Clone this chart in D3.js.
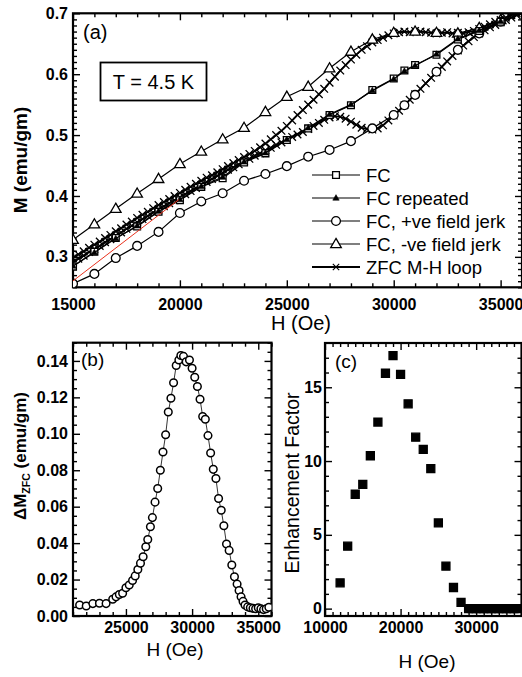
<!DOCTYPE html>
<html>
<head>
<meta charset="utf-8">
<script src="https://cdn.jsdelivr.net/npm/d3@7"></script>
<style>
  body { margin: 0; background: #fff; }
  svg { display: block; font-family: "Liberation Sans", Arial, Helvetica, sans-serif; }
</style>
</head>
<body>
<svg id="fig" width="522" height="677"></svg>
<script>
// ---------- Panel (a): M vs H at T = 4.5 K ----------
const fcField   = [15000,16000,17000,18000,19000,20000,21000,22000,23000,24000,25000,26000,27000,28000,29000,30000,30500,31000,32000,33000,34000,35000];
const fcM       = [0.284,0.3085,0.331,0.350,0.374,0.393,0.415,0.429,0.455,0.470,0.492,0.511,0.533,0.549,0.574,0.593,0.606,0.615,0.632,0.657,0.671,0.686];
const fcRepM    = [0.285,0.307,0.330,0.351,0.375,0.394,0.416,0.431,0.456,0.471,0.493,0.512,0.534,0.550,0.573,0.592,0.605,0.614,0.633,0.658,0.672,0.687];
const posJerkField = [15000,16000,17000,18000,19000,20000,21000,22000,23000,24000,25000,26000,27000,28000,29000,30000,30500,31000,32000,33000,34000,35000];
const posJerkM     = [0.256,0.272,0.298,0.318,0.341,0.372,0.391,0.4045,0.425,0.436,0.449,0.4645,0.4756,0.490,0.511,0.533,0.549,0.566,0.604,0.640,0.667,0.686];
const negJerkField = [15000,16000,17000,18000,19000,20000,21000,22000,23000,24000,25000,26000,27000,28000,29000,30000,31000,32000,33000,34000,35000];
const negJerkM     = [0.328,0.3535,0.379,0.404,0.428,0.4525,0.473,0.493,0.512,0.538,0.563,0.5795,0.6097,0.637,0.657,0.668,0.670,0.668,0.667,0.676,0.689];

// ZFC M-H loop, both branches on a common field grid
const zfcField = [15000,15250,15500,15750,16000,16250,16500,16750,17000,17250,17500,17750,18000,18250,18500,18750,
  19000,19250,19500,19750,20000,20250,20500,20750,21000,21250,21500,21750,22000,22250,22500,22750,
  23000,23250,23500,23750,24000,24250,24500,24750,25000,25250,25500,25750,26000,26250,26500,26750,
  27000,27250,27500,27750,28000,28250,28500,28750,29000,29250,29500,29750,30000,30250,30500,30750,
  31000,31250,31500,31750,32000,32250,32500,32750,33000,33250,33500,33750,34000,34250,34500,34750,
  35000,35250,35500,35750,36000];
const zfcUpM = [0.291,0.297,0.302,0.308,0.313,0.318,0.324,0.329,0.335,0.340,0.346,0.351,0.357,0.362,0.367,0.373,
  0.378,0.383,0.388,0.393,0.398,0.403,0.408,0.413,0.418,0.423,0.428,0.433,0.438,0.443,0.447,0.452,
  0.457,0.461,0.466,0.470,0.475,0.479,0.484,0.488,0.492,0.497,0.501,0.505,0.510,0.515,0.520,0.525,
  0.529,0.531,0.530,0.527,0.522,0.517,0.512,0.510,0.509,0.511,0.516,0.524,0.532,0.540,0.549,0.558,
  0.567,0.576,0.585,0.594,0.603,0.612,0.621,0.630,0.639,0.647,0.654,0.661,0.667,0.672,0.677,0.681,
  0.685,0.689,0.693,0.697,0.701];
const zfcDownM = [0.298,0.304,0.309,0.315,0.320,0.325,0.331,0.336,0.342,0.347,0.353,0.358,0.364,0.369,0.374,0.380,
  0.385,0.390,0.395,0.400,0.405,0.410,0.415,0.420,0.425,0.430,0.434,0.439,0.444,0.449,0.454,0.459,
  0.464,0.469,0.474,0.480,0.486,0.493,0.500,0.507,0.515,0.524,0.533,0.541,0.550,0.558,0.567,0.576,
  0.586,0.596,0.606,0.615,0.624,0.632,0.640,0.646,0.652,0.656,0.660,0.664,0.667,0.669,0.670,0.669,
  0.671,0.670,0.669,0.668,0.667,0.668,0.669,0.667,0.668,0.667,0.669,0.671,0.674,0.678,0.682,0.686,
  0.689,0.693,0.697,0.700,0.704];

// linear fit drawn in red
const fitField = [15000, 19950];
const fitM     = [0.2605, 0.394];

const aXTicks = [15000, 20000, 25000, 30000, 35000];
const aYTicks = [0.3, 0.4, 0.5, 0.6, 0.7];

// ---------- Panel (b): Delta M_ZFC ----------
const dmField = [21500,22000,22500,23000,23500,24000,24250,24500,24750,25000,25250,25500,25700,25900,26100,26300,26500,26650,26850,27000,
  27200,27400,27600,27800,28000,28200,28400,28600,28800,29000,29150,29350,29550,29800,30000,30200,30400,30600,30800,31000,
  31200,31400,31600,31800,32000,32200,32400,32600,32800,33000,33200,33400,33550,33700,33850,34000,34200,34400,34600,34800,
  35000,35200,35400,35600,35800];
const dmValue = [0.006,0.0055,0.0068,0.007,0.0068,0.0092,0.0105,0.0118,0.0125,0.0155,0.017,0.0195,0.022,0.0255,0.029,0.0325,0.038,0.042,0.049,0.054,
  0.0625,0.070,0.080,0.090,0.0995,0.112,0.1195,0.128,0.1375,0.1405,0.143,0.1425,0.1395,0.1405,0.136,0.131,0.126,0.119,0.1095,0.108,
  0.099,0.0895,0.0805,0.0755,0.0645,0.058,0.0495,0.0395,0.036,0.028,0.0215,0.0175,0.014,0.0105,0.008,0.006,0.005,0.0045,0.0042,0.004,
  0.0045,0.004,0.0035,0.004,0.0048];
const bXTicks = [25000, 30000, 35000];
const bYTicks = [0, 0.02, 0.04, 0.06, 0.08, 0.10, 0.12, 0.14];

// ---------- Panel (c): enhancement factor ----------
const efField = [12000,13000,14000,15000,16000,17000,18000,19000,20000,21000,22000,23000,24000,25000,26000,27000,28000,
  29000,29500,30000,30500,31000,31500,32000,32500,33000,33500,34000,34500,35000,35500];
const efValue = [1.75,4.23,7.75,8.42,10.36,12.64,15.95,17.15,15.87,13.88,11.62,10.79,9.49,5.81,2.88,1.43,0.42,
  0,0,0,0,0,0,0,0,0,0,0,0,0,0];
const cXTicks = [10000, 20000, 30000];
const cYTicks = [0, 5, 10, 15];

// ---------- drawing ----------
const svg = d3.select("#fig");
let clipId = 0;

function drawFrame(x, y, cfg) {
  const [xl, xr] = x.range();
  const [yb, yt] = y.range();
  const g = svg.append("g");
  const styleTicks = a => {
    a.select(".domain").remove();
    a.selectAll(".tick line").attr("stroke", "#000").attr("stroke-width", 1.4);
    a.selectAll(".tick text").attr("font-size", cfg.tickFont).attr("font-weight", "bold").attr("fill", "#000")
      .attr("font-family", "'Liberation Sans', Arial, sans-serif");
  };
  const ax = (gen, tr, vals, len, fmt, pad) => {
    const a = g.append("g").attr("transform", tr)
      .call(gen.tickValues(vals).tickSizeInner(-len).tickSizeOuter(0).tickPadding(pad).tickFormat(fmt));
    styleTicks(a);
    return a;
  };
  const none = () => "";
  // bottom
  ax(d3.axisBottom(x), `translate(0,${yb})`, cfg.xMinor, cfg.minorLen, none, 0);
  ax(d3.axisBottom(x), `translate(0,${yb})`, cfg.xTicks, cfg.majorLen, cfg.xFmt, cfg.xPad);
  // top
  ax(d3.axisTop(x), `translate(0,${yt})`, cfg.xMinor, cfg.minorLen, none, 0);
  ax(d3.axisTop(x), `translate(0,${yt})`, cfg.xTicks, cfg.majorLen, none, 0);
  // left
  ax(d3.axisLeft(y), `translate(${xl},0)`, cfg.yMinor, cfg.minorLen, none, 0);
  ax(d3.axisLeft(y), `translate(${xl},0)`, cfg.yTicks, cfg.majorLen, cfg.yFmt, cfg.yPad);
  // right
  ax(d3.axisRight(y), `translate(${xr},0)`, cfg.yMinor, cfg.minorLen, none, 0);
  ax(d3.axisRight(y), `translate(${xr},0)`, cfg.yTicks, cfg.majorLen, none, 0);
  // frame
  g.append("rect").attr("x", xl).attr("y", yt).attr("width", xr - xl).attr("height", yb - yt)
    .attr("fill", "none").attr("stroke", "#000").attr("stroke-width", 2.2);
}

function plotArea(x, y) {
  const id = "clip" + (clipId++);
  const [xl, xr] = x.range();
  const [yb, yt] = y.range();
  svg.append("clipPath").attr("id", id).append("rect")
    .attr("x", xl).attr("y", yt).attr("width", xr - xl).attr("height", yb - yt);
  return svg.append("g").attr("clip-path", `url(#${id})`);
}

// marker shapes centred on the origin
const shape = {
  square: s => `M${-s},${-s}H${s}V${s}H${-s}Z`,
  circle: r => `M${-r},0A${r},${r} 0 1,0 ${r},0A${r},${r} 0 1,0 ${-r},0Z`,
  triangle: s => `M0,${-s * 1.05}L${s},${s * 0.68}L${-s},${s * 0.68}Z`,
  cross: s => `M${-s},${-s}L${s},${s}M${-s},${s}L${s},${-s}`
};

function series(g, x, y, xs, ys, opt) {
  const pts = xs.map((v, i) => [v, ys[i]]);
  if (opt.line !== false) {
    g.append("path").attr("d", d3.line().x(d => x(d[0])).y(d => y(d[1]))(pts))
      .attr("fill", "none").attr("stroke", opt.lineColor || "#000").attr("stroke-width", opt.lw || 1.2);
  }
  if (opt.marker) {
    g.selectAll(null).data(pts).enter().append("path")
      .attr("transform", d => `translate(${x(d[0])},${y(d[1])})`)
      .attr("d", opt.marker)
      .attr("fill", opt.fill || "none")
      .attr("stroke", opt.stroke || "#000")
      .attr("stroke-width", opt.sw || 1.3);
  }
}

// ---- panel (a)
const xa = d3.scaleLinear().domain([15000, 36000]).range([73, 522]);
const ya = d3.scaleLinear().domain([0.25, 0.7]).range([287.3, 13.3]);
drawFrame(xa, ya, {
  xTicks: aXTicks, xMinor: d3.range(15000, 36001, 1000).filter(v => !aXTicks.includes(v)),
  yTicks: aYTicks, yMinor: d3.range(25, 71).map(v => v / 100).filter(v => !aYTicks.some(t => Math.abs(t - v) < 1e-9)),
  majorLen: 7, minorLen: 4, xPad: 11, yPad: 5, tickFont: 16,
  xFmt: d3.format("d"), yFmt: d3.format(".1f")
});
const ga = plotArea(xa, ya);
series(ga, xa, ya, zfcField, zfcUpM, { lw: 1.8, marker: shape.cross(3.8), sw: 1.3 });
series(ga, xa, ya, zfcField, zfcDownM, { lw: 1.8, marker: shape.cross(3.8), sw: 1.3 });
series(ga, xa, ya, negJerkField, negJerkM, { marker: shape.triangle(5.3), fill: "#fff", sw: 1.3 });
series(ga, xa, ya, posJerkField, posJerkM, { marker: shape.circle(4.4), fill: "#fff", sw: 1.3 });
series(ga, xa, ya, fcField, fcM, { marker: shape.square(3.4), fill: "#fff", sw: 1.3 });
series(ga, xa, ya, fcField, fcRepM, { marker: shape.triangle(3.2), fill: "#000", sw: 0.6 });
series(ga, xa, ya, fitField, fitM, { lineColor: "#e8321e", lw: 1 });

// label, temperature box, axis titles
svg.append("text").attr("x", 83).attr("y", 39).attr("font-size", 20).text("(a)");
svg.append("rect").attr("x", 100.5).attr("y", 62.5).attr("width", 106).attr("height", 38)
  .attr("fill", "#fff").attr("stroke", "#000").attr("stroke-width", 1.8);
svg.append("text").attr("x", 153.5).attr("y", 89).attr("text-anchor", "middle").attr("font-size", 20).text("T = 4.5 K");
svg.append("text").attr("transform", "translate(27,160) rotate(-90)").attr("text-anchor", "middle")
  .attr("font-size", 19).attr("font-weight", "bold").text("M (emu/gm)");
svg.append("text").attr("x", 301).attr("y", 330).attr("text-anchor", "middle").attr("font-size", 20).text("H (Oe)");

// legend
const legendItems = [
  { label: "FC", marker: shape.square(3.4), fill: "#fff", sw: 1.3 },
  { label: "FC repeated", marker: shape.triangle(3.2), fill: "#000", sw: 0.6 },
  { label: "FC, +ve field jerk", marker: shape.circle(4.4), fill: "#fff", sw: 1.3 },
  { label: "FC, -ve field jerk", marker: shape.triangle(5.3), fill: "#fff", sw: 1.3 },
  { label: "ZFC M-H loop", marker: shape.cross(3.2), fill: "none", sw: 1.1 }
];
const leg = svg.append("g");
legendItems.forEach((it, i) => {
  const cy = 175 + i * 23;
  leg.append("line").attr("x1", 312).attr("x2", 360).attr("y1", cy).attr("y2", cy)
    .attr("stroke", "#000").attr("stroke-width", i === 4 ? 1.8 : 1.2);
  leg.append("path").attr("transform", `translate(336,${cy})`).attr("d", it.marker)
    .attr("fill", it.fill).attr("stroke", "#000").attr("stroke-width", it.sw);
  leg.append("text").attr("x", 366).attr("y", cy + 6.6).attr("font-size", 18.5).text(it.label);
});

// ---- panel (b)
const xb = d3.scaleLinear().domain([21000, 36000]).range([73, 271.5]);
const yb = d3.scaleLinear().domain([0, 0.15]).range([616, 342.7]);
drawFrame(xb, yb, {
  xTicks: bXTicks, xMinor: d3.range(21000, 36001, 1000).filter(v => !bXTicks.includes(v)),
  yTicks: bYTicks, yMinor: d3.range(0, 151, 5).map(v => v / 1000).filter(v => !bYTicks.some(t => Math.abs(t - v) < 1e-9)),
  majorLen: 7, minorLen: 4, xPad: 6, yPad: 5, tickFont: 16,
  xFmt: d3.format("d"), yFmt: d3.format(".2f")
});
const gb = plotArea(xb, yb);
series(gb, xb, yb, dmField, dmValue, { lw: 0.8, marker: shape.circle(3.8), fill: "#fff", sw: 1.5 });
svg.append("text").attr("x", 81).attr("y", 366).attr("font-size", 19).text("(b)");
const bLabel = svg.append("text").attr("transform", "translate(26,456) rotate(-90)").attr("text-anchor", "middle")
  .attr("font-size", 17).attr("font-weight", "bold");
bLabel.append("tspan").text("\u0394M");
bLabel.append("tspan").attr("font-size", 10.5).attr("dy", 4).text("ZFC");
bLabel.append("tspan").attr("dy", -4).text(" (emu/gm)");
svg.append("text").attr("x", 175).attr("y", 656).attr("text-anchor", "middle").attr("font-size", 19).text("H (Oe)");

// ---- panel (c)
const xc = d3.scaleLinear().domain([10000, 36000]).range([325, 521.5]);
const yc = d3.scaleLinear().domain([-0.5, 18]).range([616, 343]);
drawFrame(xc, yc, {
  xTicks: cXTicks, xMinor: d3.range(10000, 36001, 1000).filter(v => !cXTicks.includes(v)),
  yTicks: cYTicks, yMinor: d3.range(0, 18, 1).filter(v => !cYTicks.includes(v)),
  majorLen: 7, minorLen: 4, xPad: 6, yPad: 3, tickFont: 16,
  xFmt: d3.format("d"), yFmt: d3.format("d")
});
const gc = plotArea(xc, yc);
series(gc, xc, yc, efField, efValue, { line: false, marker: shape.square(4), fill: "#000", sw: 0 });
svg.append("text").attr("x", 335).attr("y", 368).attr("font-size", 19).text("(c)");
svg.append("text").attr("transform", "translate(299,483) rotate(-90)").attr("text-anchor", "middle")
  .attr("font-size", 19.5).text("Enhancement Factor");
svg.append("text").attr("x", 427).attr("y", 668).attr("text-anchor", "middle").attr("font-size", 19).text("H (Oe)");
</script>
</body>
</html>
